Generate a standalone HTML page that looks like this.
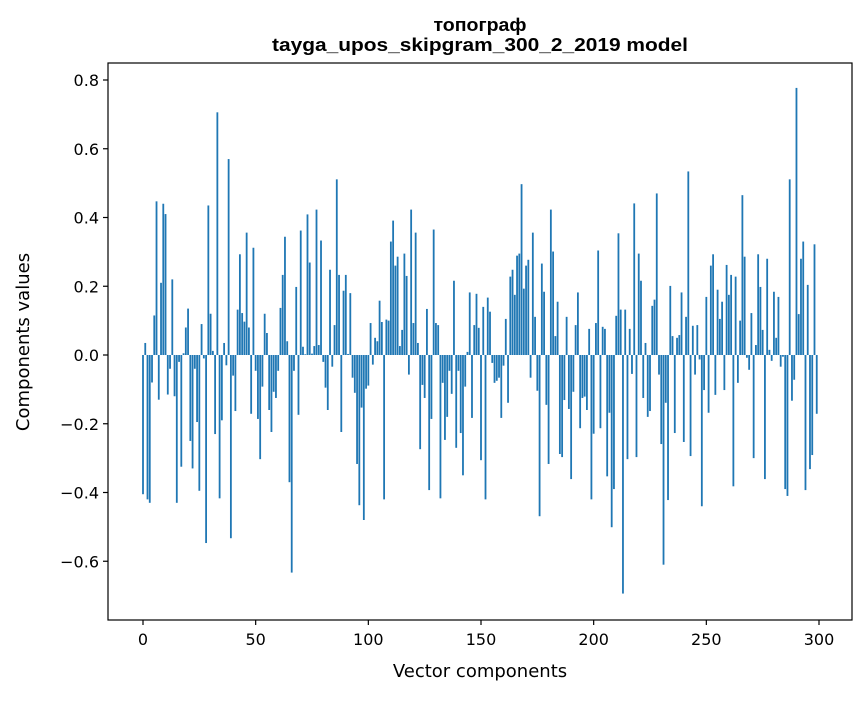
<!DOCTYPE html>
<html><head><meta charset="utf-8"><style>
body{margin:0;background:#fff}
svg text{font-family:"DejaVu Sans","Liberation Sans",sans-serif;fill:#000}
svg text.title{font-family:"Liberation Sans","DejaVu Sans",sans-serif;font-weight:bold}
</style></head><body>
<svg id="chart" width="867" height="696" viewBox="0 0 867 696" xmlns="http://www.w3.org/2000/svg">
<rect width="867" height="696" fill="#fff"/>
<text class="title" x="480" y="31" text-anchor="middle" font-size="18.5" textLength="93" lengthAdjust="spacingAndGlyphs">топограф</text>
<text class="title" x="480" y="51" text-anchor="middle" font-size="18.5" textLength="416" lengthAdjust="spacingAndGlyphs">tayga_upos_skipgram_300_2_2019 model</text>
<g id="bars"></g>
<g id="axes"></g>
<text x="480" y="677" text-anchor="middle" font-size="18">Vector components</text>
<text transform="translate(29,342) rotate(-90)" text-anchor="middle" font-size="18">Components values</text>
</svg>
<script>
const values = [
-0.405,0.035,-0.42,-0.43,-0.08,0.115,0.447,-0.13,0.21,0.44,
0.41,-0.115,-0.04,0.22,-0.12,-0.43,-0.02,-0.325,0.005,0.08,
0.135,-0.25,-0.33,-0.04,-0.195,-0.395,0.09,-0.01,-0.547,0.435,
0.12,0.012,-0.23,0.706,-0.417,-0.19,0.035,-0.03,0.57,-0.533,
-0.06,-0.163,0.132,0.293,0.122,0.097,0.356,0.08,-0.171,0.312,
-0.046,-0.186,-0.303,-0.092,0.12,0.064,-0.16,-0.224,-0.107,-0.125,
-0.046,0.137,0.233,0.344,0.04,-0.37,-0.633,-0.046,0.198,-0.174,
0.362,0.024,0.002,0.409,0.269,0.004,0.026,0.423,0.029,0.333,
-0.02,-0.095,-0.16,0.248,-0.034,0.087,0.511,0.233,-0.224,0.187,
0.233,0.003,0.18,-0.066,-0.11,-0.317,-0.437,-0.153,-0.48,-0.098,
-0.089,0.093,-0.028,0.05,0.04,0.158,0.096,-0.42,0.103,0.1,
0.33,0.391,0.26,0.286,0.026,0.073,0.295,0.23,-0.057,0.423,
0.093,0.356,0.035,-0.274,-0.087,-0.125,0.134,-0.393,-0.186,0.365,
0.093,0.087,-0.417,-0.081,-0.247,-0.18,-0.046,-0.113,0.216,-0.27,
-0.046,-0.227,-0.35,-0.092,0.009,0.182,-0.183,0.087,0.178,0.079,
-0.306,0.14,-0.42,0.167,0.126,-0.023,-0.081,-0.075,-0.066,-0.183,
-0.031,0.105,-0.139,0.228,0.248,0.175,0.289,0.295,0.497,0.193,
0.26,0.277,-0.066,0.356,0.111,-0.104,-0.469,0.266,0.184,-0.145,
-0.317,0.423,0.301,0.055,0.155,-0.288,-0.297,-0.131,0.111,-0.157,
-0.361,-0.107,0.087,0.182,-0.213,-0.125,-0.121,-0.16,0.076,-0.42,
-0.229,0.093,0.304,-0.213,0.082,0.076,-0.353,-0.168,-0.501,-0.39,
0.114,0.354,0.132,-0.694,0.132,-0.303,0.076,-0.055,0.441,-0.297,
0.295,0.216,-0.125,0.035,-0.18,-0.163,0.143,0.161,0.47,-0.057,
-0.259,-0.61,-0.139,-0.422,0.201,0.055,-0.227,0.05,0.058,0.182,
-0.253,0.111,0.534,-0.294,0.085,-0.057,0.087,-0.013,-0.44,-0.102,
0.169,-0.168,0.26,0.293,-0.116,0.19,0.105,0.155,-0.102,0.262,
0.175,0.233,-0.382,0.228,-0.081,0.1,0.465,0.286,-0.008,-0.043,
0.122,-0.3,0.029,0.293,0.198,0.073,-0.361,0.28,0.015,-0.017,
0.184,0.05,0.169,-0.034,-0.005,-0.39,-0.41,0.511,-0.133,-0.072,
0.777,0.119,0.28,0.33,-0.393,0.204,-0.332,-0.291,0.322,-0.171
];
const xTicks = [0,50,100,150,200,250,300];
const yTicks = [-0.6,-0.4,-0.2,0.0,0.2,0.4,0.6,0.8];
const yTickLabels = ["\u22120.6","\u22120.4","\u22120.2","0.0","0.2","0.4","0.6","0.8"];

const L=108,R=852,T=63,B=620;
const xs = v => 143 + (v)*(676/300);
const ys = v => 355 - v*343.75;
const NS="http://www.w3.org/2000/svg";
const bars=document.getElementById('bars');
const bw=0.8*676/300;
values.forEach((v,i)=>{
  const r=document.createElementNS(NS,'rect');
  
  
  const y0=ys(0), y1=ys(v);
  r.setAttribute('x',xs(i)-bw/2);
  r.setAttribute('y',Math.min(y0,y1));
  r.setAttribute('width',bw);
  r.setAttribute('height',Math.abs(y1-y0));
  r.setAttribute('fill','#1f77b4');
  bars.appendChild(r);
});
const axes=document.getElementById('axes');
const frame=document.createElementNS(NS,'rect');


frame.setAttribute('x',L);frame.setAttribute('y',T);
frame.setAttribute('width',R-L);frame.setAttribute('height',B-T);
frame.setAttribute('fill','none');frame.setAttribute('stroke','#000');frame.setAttribute('stroke-width','1.2');
axes.appendChild(frame);
xTicks.forEach(t=>{
  const x=xs(t);
  const l=document.createElementNS(NS,'line');
  
  
  l.setAttribute('x1',x);l.setAttribute('x2',x);l.setAttribute('y1',B);l.setAttribute('y2',B+5);
  l.setAttribute('stroke','#000');l.setAttribute('stroke-width','1.2');
  axes.appendChild(l);
  const tx=document.createElementNS(NS,'text');
  
  
  tx.setAttribute('x',x);tx.setAttribute('y',B+25);
  tx.setAttribute('text-anchor','middle');tx.setAttribute('font-size','16');
  tx.textContent=t;
  axes.appendChild(tx);
});
yTicks.forEach((t,i)=>{
  const y=ys(t);
  const l=document.createElementNS(NS,'line');
  
  
  l.setAttribute('x1',L-5);l.setAttribute('x2',L);l.setAttribute('y1',y);l.setAttribute('y2',y);
  l.setAttribute('stroke','#000');l.setAttribute('stroke-width','1.2');
  axes.appendChild(l);
  const tx=document.createElementNS(NS,'text');
  
  
  tx.setAttribute('x',L-9);tx.setAttribute('y',y+6);
  tx.setAttribute('text-anchor','end');tx.setAttribute('font-size','16');
  tx.textContent=yTickLabels[i];
  axes.appendChild(tx);
});
</script>
</body></html>
